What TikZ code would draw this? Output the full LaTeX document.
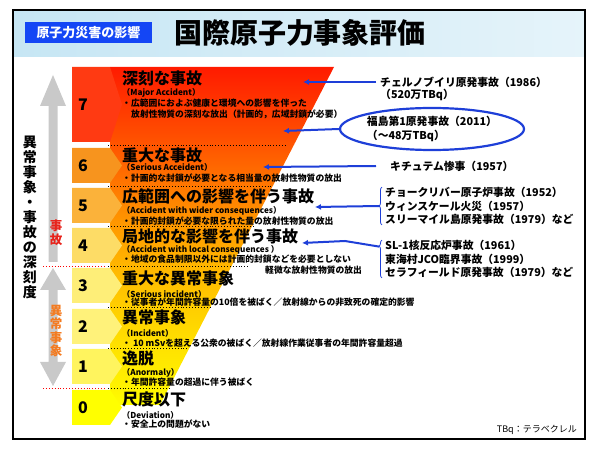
\documentclass[tikz,border=0pt]{standalone}
\usepackage{fontspec}
\setmainfont{Noto Sans CJK JP}
\usetikzlibrary{positioning, arrows.meta, decorations.pathreplacing, shapes.geometric}
\definecolor{hdrblue}{HTML}{C6E6F4}
\definecolor{tagblue}{HTML}{1446F5}
\definecolor{evblue}{HTML}{1E3FD8}
\definecolor{arrgray}{HTML}{C9C9C9}
\definecolor{acred}{HTML}{E8231B}
\definecolor{inorange}{HTML}{F47B20}
\definecolor{lv7}{HTML}{FF3A12}\definecolor{lv6}{HTML}{F7941E}\definecolor{lv5}{HTML}{FBB23A}
\definecolor{lv4}{HTML}{FDDC66}\definecolor{lv3}{HTML}{FEEE78}\definecolor{lv2}{HTML}{FFF27A}
\definecolor{lv1}{HTML}{FFF45E}\definecolor{lv0}{HTML}{FFFF00}
\definecolor{fa}{HTML}{FF1A00}\definecolor{fb}{HTML}{FF5500}\definecolor{fc}{HTML}{FF7800}
\definecolor{fd}{HTML}{FF9A00}\definecolor{fe}{HTML}{FFB600}\definecolor{ff}{HTML}{FFCE00}
\definecolor{fg}{HTML}{FFE200}\definecolor{fh}{HTML}{FFF300}\definecolor{fi}{HTML}{FFFF00}

\begin{document}
\begin{tikzpicture}[x=1pt, y=-1pt,
    ttl/.style = {anchor=west, inner sep=0pt, font=\bfseries\fontsize{16}{16}\selectfont},
    sub/.style = {anchor=west, inner sep=0pt, font=\bfseries\fontsize{8.2}{8.2}\selectfont},
    desc/.style = {anchor=west, inner sep=0pt, font=\bfseries\fontsize{8.8}{8.8}\selectfont},
    num/.style = {inner sep=0pt, font=\bfseries\fontsize{16}{16}\selectfont},
    ev/.style = {anchor=west, align=left, inner sep=0pt, font=\bfseries\fontsize{10.8}{13.5}\selectfont},
    evarrow/.style = {evblue, line width=2pt, -{Latex[length=6pt, width=6pt]}},
    evbrace/.style = {evblue, line width=0.8pt, decorate, decoration={brace, amplitude=3pt, #1}},
    evbrace/.default = {aspect=0.5},
    sep/.style = {dotted, line width=0.9pt},
    vtext/.style = {align=center, inner sep=0pt}]
  \useasboundingbox (0,0) rectangle (598,449);
  \shade[left color=hdrblue, right color=hdrblue!45] (13,10) rectangle (585,57);
  \draw[line width=1.2pt] (13,10) rectangle (585,439);
  \node[fill=tagblue, text=white, minimum width=127pt, minimum height=21pt, inner sep=0pt,
        font=\bfseries\fontsize{13}{13}\selectfont] (tag) at (88.5,32.5) {原子力災害の影響};
  \node[inner sep=0pt, font=\bfseries\fontsize{28}{28}\selectfont] (title) at (300,33) {国際原子力事象評価};

  \begin{scope}
    \clip (110,67) -- (334,67) -- (160,405) -- (110,405) -- cycle;
    \shade[top color=fa, bottom color=fb] (100,66) rectangle (340,145);
    \shade[top color=fb, bottom color=fc] (100,145) rectangle (340,186);
    \shade[top color=fc, bottom color=fd] (100,186) rectangle (340,226);
    \shade[top color=fd, bottom color=fe] (100,226) rectangle (340,266);
    \shade[top color=fe, bottom color=ff] (100,266) rectangle (340,307);
    \shade[top color=ff, bottom color=fg] (100,307) rectangle (340,348);
    \shade[top color=fg, bottom color=fh] (100,348) rectangle (340,388);
    \shade[top color=fh, bottom color=fi] (100,388) rectangle (340,406);
  \end{scope}
  \foreach \n/\t/\b/\c in {7/67/142/lv7, 6/148/183/lv6, 5/188/223/lv5, 4/228/263/lv4,
                           3/268/303/lv3, 2/309/344/lv2, 1/349/384/lv1, 0/390/425/lv0} {
    \fill[\c] (72,\t) -- (110,\t) -- (122,{(\t+\b)/2}) -- (110,\b) -- (72,\b) -- cycle;
    \node[num] (L\n) at (83,{(\t+\b)/2}) {\n};
  }
  \foreach \y/\e in {145/287, 186/273, 226/255, 266/250, 307/212, 348/188, 388/170}
    \draw[sep] (108,\y) -- (\e,\y);
  \draw[sep, red] (43,266) -- (105,266); \draw[sep, red] (43,388) -- (105,388);

  \fill[arrgray] (48.5,262) -- (48.5,106) -- (40,106) -- (53,75) -- (66,106) -- (57.5,106) -- (57.5,262) -- cycle;
  \fill[arrgray] (53,268) -- (66,290) -- (57.5,290) -- (57.5,362) -- (66,362) -- (53,386)
                 -- (40,362) -- (48.5,362) -- (48.5,290) -- (40,290) -- cycle;
  \node[vtext, font=\bfseries\fontsize{14}{15}\selectfont] (depth) at (30,217)
       {異\\常\\事\\象\\・\\事\\故\\の\\深\\刻\\度};
  \node[vtext, text=acred, font=\bfseries\fontsize{12.5}{13.5}\selectfont] (acc) at (56,233) {事\\故};
  \node[vtext, text=inorange, font=\bfseries\fontsize{12.5}{13.5}\selectfont] (inc) at (56,331) {異\\常\\事\\象};

  \node[ttl] (T7) at (122,78) {深刻な事故};
  \node[sub] (S7) at (122,93) {（Major Accident）};
  \node[desc] (D7) at (122,103) {・広範囲におよぶ健康と環境への影響を伴った};
  \node[desc] (D7b) at (131,114) {放射性物質の深刻な放出（計画的，広域封鎖が必要）};
  \node[ttl] (T6) at (122,155) {重大な事故};
  \node[sub] (S6) at (122,167) {（Serious Acceident）};
  \node[desc] (D6) at (122,178) {・計画的な封鎖が必要となる相当量の放射性物質の放出};
  \node[ttl] (T5) at (122,196) {広範囲への影響を伴う事故};
  \node[sub] (S5) at (122,211) {（Accident with wider consequences）};
  \node[desc] (D5) at (122,221) {・計画的封鎖が必要な限られた量の放射性物質の放出};
  \node[ttl] (T4) at (122,236) {局地的な影響を伴う事故};
  \node[sub] (S4) at (122,250) {（Accident with local consequences ）};
  \node[desc] (D4) at (122,259) {・地域の食品制限以外には計画的封鎖などを必要としない};
  \node[desc] (D4b) at (265,270) {軽微な放射性物質の放出};
  \node[ttl] (T3) at (122,278) {重大な異常事象};
  \node[sub] (S3) at (122,294) {（Serious incident）};
  \node[desc] (D3) at (122,302) {・従事者が年間許容量の10倍を被ばく／放射線からの非致死の確定的影響};
  \node[ttl] (T2) at (122,317) {異常事象};
  \node[sub] (S2) at (122,333) {（Incident）};
  \node[desc] (D2) at (122,343) {・ 10 mSvを超える公衆の被ばく／放射線作業従事者の年間許容量超過};
  \node[ttl] (T1) at (122,358) {逸脱};
  \node[sub] (S1) at (122,373) {（Anormaly）};
  \node[desc] (D1) at (122,382) {・年間許容量の超過に伴う被ばく};
  \node[ttl] (T0) at (122,399) {尺度以下};
  \node[sub] (S0) at (122,415) {（Deviation）};
  \node[desc] (D0) at (122,424) {・安全上の問題がない};

  \node[ev] (chern) at (380,82) {チェルノブイリ原発事故（1986）};
  \node[ev] (chernbq) at (380,95) {（520万TBq）};
  \node[ev, ellipse, draw=evblue, line width=2.2pt, anchor=center, minimum width=166pt, minimum height=42pt]
       (fuku) at (432,129) {福島第1原発事故（2011）\\（～48万TBq）};
  \node[ev] (kysh) at (390,166) {キチュテム惨事（1957）};
  \node[ev] (grp5) at (385,206) {チョークリバー原子炉事故（1952）\\ウィンスケール火災（1957）\\スリーマイル島原発事故（1979）など};
  \node[ev] (grp4) at (385,259) {SL-1核反応炉事故（1961）\\東海村JCO臨界事故（1999）\\セラフィールド原発事故（1979）など};
  \node[anchor=east, inner sep=0pt, font=\fontsize{9}{9}\selectfont] (note) at (577,430) {TBq：テラベクレル};

  \coordinate (tip7) at (303,82); \coordinate (tipf) at (283,131); \coordinate (tip6) at (263,167);
  \coordinate (tip5) at (315,207); \coordinate (tip4) at (302,243);
  \draw[evarrow] ([xshift=-4pt]chern.west) -- (tip7);
  \draw[evarrow] (fuku.west) -- (tipf);
  \draw[evarrow] ([xshift=-14pt]kysh.west) -- (tip6);
  \draw[evbrace] ([xshift=-3pt]grp5.south west) -- ([xshift=-3pt]grp5.north west);
  \draw[evbrace={aspect=0.84}] ([xshift=-3pt]grp4.south west) -- ([xshift=-3pt]grp4.north west);
  \draw[evarrow] ([xshift=-6pt]grp5.west) -- (tip5);
  \draw[evarrow] ([xshift=-6pt, yshift=-6.5pt]grp4.north west) -- (345,241) -- (tip4);
\end{tikzpicture}
\end{document}
